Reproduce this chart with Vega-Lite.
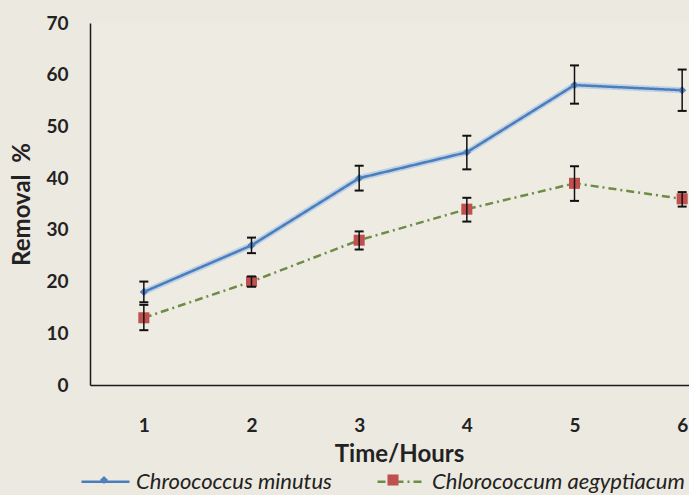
{
  "$schema": "https://vega.github.io/schema/vega-lite/v6.json",
  "width": 646,
  "height": 362,
  "autosize": {"type": "none"},
  "padding": {"left": 90, "top": 23, "right": 0, "bottom": 110},
  "background": "#ECE9E0",
  "config": {
    "view": {"stroke": null, "fill": "#EEEBE3"},
    "font": "Lato",
    "axis": {"grid": false, "ticks": false, "domainColor": "#1a1a1a", "domainWidth": 1.5, "labelFont": "Lato", "labelFontWeight": "bold", "labelFontSize": 19, "labelColor": "#222222", "titleFont": "Lato", "titleFontWeight": "bold", "titleFontSize": 24, "titleColor": "#222222"}
  },
  "data": {
    "values": [
      {"hour": 1, "series": "Chroococcus minutus", "marker": "m1", "removal": 18, "low": 16, "high": 20},
      {"hour": 2, "series": "Chroococcus minutus", "marker": "m1", "removal": 27, "low": 25.5, "high": 28.5},
      {"hour": 3, "series": "Chroococcus minutus", "marker": "m1", "removal": 40, "low": 37.6, "high": 42.4},
      {"hour": 4, "series": "Chroococcus minutus", "marker": "m1", "removal": 45, "low": 41.7, "high": 48.2},
      {"hour": 5, "series": "Chroococcus minutus", "marker": "m1", "removal": 58, "low": 54.4, "high": 61.8},
      {"hour": 6, "series": "Chroococcus minutus", "marker": "m1", "removal": 57, "low": 53, "high": 61},
      {"hour": 1, "series": "Chlorococcum aegyptiacum", "marker": "m2", "removal": 13, "low": 10.6, "high": 15.5},
      {"hour": 2, "series": "Chlorococcum aegyptiacum", "marker": "m2", "removal": 20, "low": 19, "high": 21},
      {"hour": 3, "series": "Chlorococcum aegyptiacum", "marker": "m2", "removal": 28, "low": 26.2, "high": 29.7},
      {"hour": 4, "series": "Chlorococcum aegyptiacum", "marker": "m2", "removal": 34, "low": 31.6, "high": 36.2},
      {"hour": 5, "series": "Chlorococcum aegyptiacum", "marker": "m2", "removal": 39, "low": 35.6, "high": 42.3},
      {"hour": 6, "series": "Chlorococcum aegyptiacum", "marker": "m2", "removal": 36, "low": 34.5, "high": 37.3}
    ]
  },
  "encoding": {
    "x": {
      "field": "hour", "type": "ordinal",
      "scale": {"type": "point", "padding": 0.5},
      "axis": {"title": "Time/Hours", "labelAngle": 0, "labelPadding": 31, "titlePadding": 7, "titleX": 309}
    }
  },
  "layer": [
    {
      "transform": [{"filter": "datum.series === 'Chroococcus minutus'"}],
      "mark": {"type": "line", "stroke": "#A9C4E6", "strokeWidth": 6, "opacity": 0.7},
      "encoding": {
        "y": {"field": "removal", "type": "quantitative", "scale": {"domain": [0, 70]}, "axis": {"title": "Removal\u00a0\u00a0%", "values": [0, 10, 20, 30, 40, 50, 60, 70], "labelPadding": 22, "titlePadding": 11}}
      }
    },
    {
      "mark": {"type": "line", "strokeWidth": 2.5},
      "encoding": {
        "y": {"field": "removal", "type": "quantitative", "title": "Removal\u00a0\u00a0%"},
        "stroke": {
          "field": "series", "type": "nominal",
          "scale": {"domain": ["Chroococcus minutus", "Chlorococcum aegyptiacum"], "range": ["#4A7EBB", "#6E8C46"]},
          "legend": {"orient": "none", "legendX": -10, "legendY": 433, "direction": "horizontal", "title": null, "symbolType": "stroke", "symbolSize": 2304, "symbolStrokeWidth": 2.5, "labelFont": "Lato", "labelFontSize": 22, "labelFontStyle": "italic", "labelColor": "#222222", "labelLimit": 400, "labelOffset": 5, "columnPadding": 40, "padding": 0}
        },
        "strokeDash": {
          "field": "series", "type": "nominal",
          "scale": {"domain": ["Chroococcus minutus", "Chlorococcum aegyptiacum"], "range": [[1, 0], [8, 4, 2, 4]]},
          "legend": {"orient": "none", "legendX": -10, "legendY": 433, "direction": "horizontal", "title": null, "symbolType": "stroke", "symbolSize": 2304, "symbolStrokeWidth": 2.5, "labelFont": "Lato", "labelFontSize": 22, "labelFontStyle": "italic", "labelColor": "#222222", "labelLimit": 400, "labelOffset": 5, "columnPadding": 40, "padding": 0}
        }
      }
    },
    {
      "mark": {"type": "point", "filled": true, "size": 2304, "opacity": 1, "strokeWidth": 0},
      "encoding": {
        "y": {"field": "removal", "type": "quantitative", "title": "Removal\u00a0\u00a0%"},
        "fill": {
          "field": "marker", "type": "nominal",
          "scale": {"domain": ["m1", "m2"], "range": ["#4F81BD", "#C0504D"]},
          "legend": {"orient": "none", "legendX": -10, "legendY": 433, "direction": "horizontal", "title": null, "symbolSize": 2304, "symbolStrokeWidth": 0, "symbolOpacity": 1, "labelExpr": "''", "labelFontSize": 22, "labelOffset": 5, "columnPadding": 236, "padding": 0}
        },
        "shape": {
          "field": "marker", "type": "nominal",
          "scale": {"domain": ["m1", "m2"], "range": ["M0,-0.17L0.17,0L0,0.17L-0.17,0Z", "M-0.23,-0.23L0.23,-0.23L0.23,0.23L-0.23,0.23Z"]},
          "legend": {"orient": "none", "legendX": -10, "legendY": 433, "direction": "horizontal", "title": null, "symbolSize": 2304, "symbolStrokeWidth": 0, "symbolOpacity": 1, "labelExpr": "''", "labelFontSize": 22, "labelOffset": 5, "columnPadding": 236, "padding": 0}
        }
      }
    },
    {
      "mark": {"type": "rule", "color": "#111111", "strokeWidth": 1.5},
      "encoding": {
        "y": {"field": "low", "type": "quantitative", "title": "Removal\u00a0\u00a0%"},
        "y2": {"field": "high"}
      }
    },
    {
      "mark": {"type": "tick", "color": "#111111", "thickness": 2, "size": 9, "opacity": 1},
      "encoding": {"y": {"field": "low", "type": "quantitative", "title": "Removal\u00a0\u00a0%"}}
    },
    {
      "mark": {"type": "tick", "color": "#111111", "thickness": 2, "size": 9, "opacity": 1},
      "encoding": {"y": {"field": "high", "type": "quantitative", "title": "Removal\u00a0\u00a0%"}}
    }
  ]
}
